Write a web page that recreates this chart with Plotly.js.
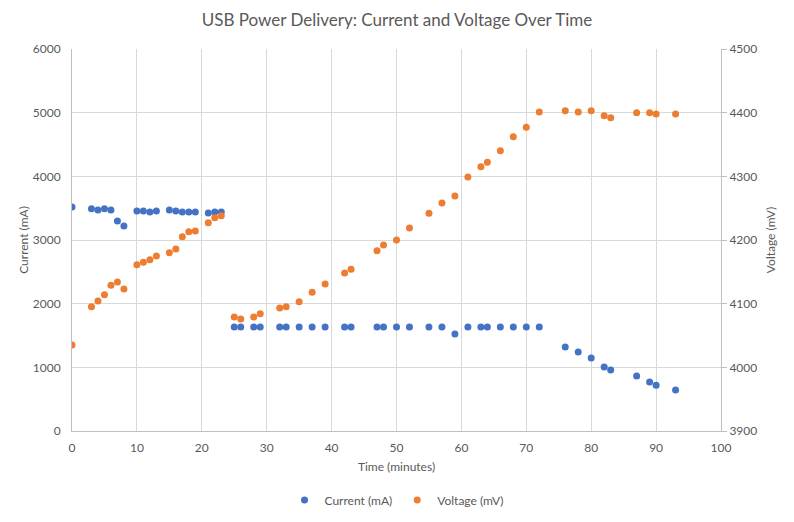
<!DOCTYPE html>
<html>
<head>
<meta charset="utf-8">
<script src="https://cdn.plot.ly/plotly-3.0.1.min.js"></script>
<style>
  html, body { margin: 0; padding: 0; background: #ffffff; }
  #chart { width: 794px; height: 522px; }
</style>
</head>
<body>
<div id="chart"></div>
<script>
// time in minutes, shared by both series
var timeMin = [0, 3, 4, 5, 6, 7, 8, 10, 11, 12, 13, 15, 16, 17, 18, 19, 21, 22, 23,
    25, 26, 28, 29, 32, 33, 35, 37, 39, 42, 43, 47, 48, 50, 52, 55, 57, 59,
    61, 63, 64, 66, 68, 70, 72, 76, 78, 80, 82, 83, 87, 89, 90, 93];

var currentMA = [3520, 3490, 3470, 3490, 3470, 3300, 3220, 3455, 3455, 3440, 3455, 3470, 3455, 3440, 3440, 3440, 3425, 3440, 3440,
    1635, 1635, 1635, 1635, 1635, 1635, 1635, 1635, 1635, 1635, 1635, 1635, 1635, 1635, 1635, 1635, 1635, 1525,
    1635, 1635, 1635, 1635, 1635, 1635, 1635, 1320, 1240, 1145, 1005, 960, 865, 770, 720, 645];

var voltageMV = [4035, 4095, 4104, 4114, 4129, 4134, 4123, 4161, 4165, 4169, 4175, 4180, 4186, 4205, 4213, 4214, 4227, 4235, 4238,
    4079, 4076, 4079, 4084, 4093, 4095, 4103, 4118, 4131, 4148, 4154, 4183, 4192, 4200, 4219, 4242, 4258, 4269,
    4299, 4315, 4322, 4340, 4362, 4377, 4401, 4403, 4401, 4403, 4395, 4392, 4400, 4400, 4398, 4398];

var FONT = 'Lato, "Open Sans", sans-serif';
var TXT = '#595959';

var traces = [
    {
        x: timeMin,
        y: currentMA,
        mode: 'markers',
        type: 'scatter',
        name: 'Current (mA)',
        marker: { color: '#4472C4', size: 7 },
        yaxis: 'y'
    },
    {
        x: timeMin,
        y: voltageMV,
        mode: 'markers',
        type: 'scatter',
        name: 'Voltage (mV)',
        marker: { color: '#ED7D31', size: 7 },
        yaxis: 'y2'
    }
];

var layout = {
    width: 794,
    height: 522,
    paper_bgcolor: '#ffffff',
    plot_bgcolor: '#ffffff',
    font: { family: FONT, size: 12, color: TXT },
    margin: { l: 72, r: 73, t: 49, b: 91 },
    title: {
        text: 'USB Power Delivery: Current and Voltage Over Time',
        font: { family: FONT, size: 17, color: TXT },
        x: 0.5,
        xanchor: 'center',
        y: 1 - 20 / 522,
        yanchor: 'middle'
    },
    xaxis: {
        title: { text: 'Time (minutes)', font: { size: 12, color: TXT }, standoff: 8 },
        range: [0, 100],
        dtick: 10,
        showgrid: true,
        gridcolor: '#D9D9D9',
        zeroline: false,
        showline: true,
        linecolor: '#BFBFBF',
        ticks: 'outside',
        ticklen: 6,
        tickcolor: 'rgba(0,0,0,0)',
        fixedrange: true
    },
    yaxis: {
        title: { text: 'Current (mA)', font: { size: 12, color: TXT }, standoff: 1 },
        range: [0, 6000],
        dtick: 1000,
        showgrid: true,
        gridcolor: '#D9D9D9',
        zeroline: false,
        showline: true,
        linecolor: '#BFBFBF',
        ticks: 'outside',
        ticklen: 8,
        tickcolor: 'rgba(0,0,0,0)',
        fixedrange: true
    },
    yaxis2: {
        title: { text: 'Voltage (mV)', font: { size: 12, color: TXT }, standoff: 10 },
        range: [3900, 4500],
        dtick: 100,
        overlaying: 'y',
        side: 'right',
        showgrid: false,
        zeroline: false,
        showline: true,
        linecolor: '#BFBFBF',
        ticks: 'outside',
        ticklen: 5,
        tickcolor: '#BFBFBF',
        fixedrange: true
    },
    showlegend: true,
    legend: {
        orientation: 'h',
        x: 0.5,
        xanchor: 'center',
        xref: 'container',
        y: 1 - 500 / 522,
        yanchor: 'middle',
        yref: 'container',
        font: { size: 12, color: TXT },
        itemwidth: 30
    }
};

Plotly.newPlot('chart', traces, layout, { displayModeBar: false, staticPlot: true });
</script>
</body>
</html>
